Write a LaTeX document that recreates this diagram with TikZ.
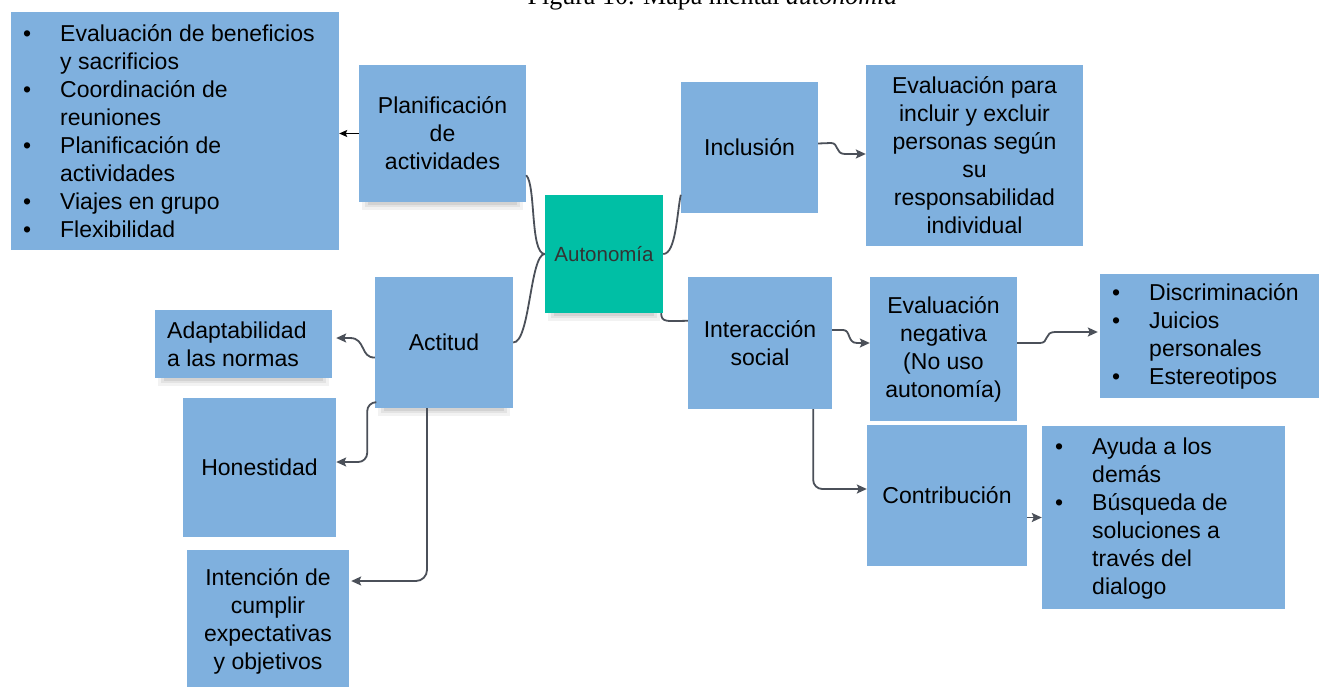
\documentclass[tikz,border=0pt]{standalone}
\usepackage{fontspec}
\setmainfont{Liberation Sans}
\newfontfamily\capfont{Liberation Serif}
\usetikzlibrary{arrows.meta}
\definecolor{boxblue}{RGB}{127,176,222}
\definecolor{autoteal}{RGB}{0,191,165}
\definecolor{conngray}{RGB}{75,80,89}
\definecolor{autotext}{RGB}{51,51,51}
\newcommand\bl{\llap{\textbullet\hspace{29pt}}}
\newcommand\boxshadow[1]{%
  \fill[black, opacity=0.05] ([xshift=3pt]#1.south west) rectangle ([xshift=-3pt,yshift=-8pt]#1.south east);
  \fill[black, opacity=0.06] ([xshift=6pt]#1.south west) rectangle ([xshift=-6pt,yshift=-5pt]#1.south east);
  \fill[black, opacity=0.07] ([xshift=9pt]#1.south west) rectangle ([xshift=-9pt,yshift=-2.5pt]#1.south east);}
\begin{document}
\begin{tikzpicture}[x=1pt,y=-1pt,
  box/.style={fill=boxblue, draw=none, inner sep=0pt, align=center,
    font=\fontsize{23}{28}\selectfont, text=black},
  listtext/.style={inner sep=0pt, align=left, anchor=west,
    font=\fontsize{23}{28}\selectfont, text=black},
  link/.style={draw=conngray, line width=1.8pt},
  conn/.style={link, -{Stealth[length=10pt,width=9pt,inset=2pt]}},
  thinarrow/.style={draw=black, line width=1pt,
    -{Stealth[length=8pt,width=7pt,inset=1.5pt]}}]
\useasboundingbox (0,0) rectangle (1319,687);
\fill[white] (0,0) rectangle (1319,687);

% caption (cut at the top edge, as in the reference)
\node[inner sep=0pt, anchor=base, font=\capfont\fontsize{26}{30}\selectfont] (caption) at (712.5,5)
  {Figura 10. Mapa mental \textit{autonomía}};

% boxes
\node[box, minimum width=328pt, minimum height=238pt] (list1) at (175,131) {};
\node[listtext] (list1t) at (60,131)
  {\bl Evaluación de beneficios\\y sacrificios\\\bl Coordinación de\\reuniones\\\bl Planificación de\\actividades\\\bl Viajes en grupo\\\bl Flexibilidad};

\node[box, minimum width=167pt, minimum height=137pt] (plan) at (442.5,133.5)
  {Planificación\\de\\actividades};
\boxshadow{plan}

\node[box, fill=autoteal, text=autotext, font=\fontsize{20.5}{24}\selectfont,
  minimum width=118pt, minimum height=118pt] (auto) at (604,254) {Autonomía};
\boxshadow{auto}

\node[box, minimum width=137pt, minimum height=131pt] (incl) at (749.5,147.5) {Inclusión};

\node[box, minimum width=217pt, minimum height=181pt] (evalpara) at (974.5,155.5)
  {Evaluación para\\incluir y excluir\\personas según\\su\\responsabilidad\\individual};

\node[box, minimum width=144pt, minimum height=132pt] (inter) at (760,343) {Interacción\\social};

\node[box, minimum width=147pt, minimum height=144pt] (evalneg) at (943.5,349)
  {Evaluación\\negativa\\(No uso\\autonomía)};

\node[box, minimum width=222pt, minimum height=124pt] (discr) at (1211,336) {};
\node[listtext] (discrt) at (1149,336)
  {\bl Discriminación\\\bl Juicios\\personales\\\bl Estereotipos};

\node[box, minimum width=160pt, minimum height=141pt] (contrib) at (947,495.5) {Contribución};

\node[box, minimum width=243pt, minimum height=183pt] (ayuda) at (1163.5,517.5) {};
\node[listtext] (ayudat) at (1092,519)
  {\bl Ayuda a los\\demás\\\bl Búsqueda de\\soluciones a\\través del\\dialogo};

\node[box, minimum width=138pt, minimum height=131pt] (actitud) at (444,342.5) {Actitud};
\boxshadow{actitud}

\node[box, minimum width=177pt, minimum height=68pt] (adapt) at (243.5,344) {};
\node[listtext] (adaptt) at (167,344) {Adaptabilidad\\a las normas};
\boxshadow{adapt}

\node[box, minimum width=153pt, minimum height=139pt] (hon) at (259.5,467.5) {Honestidad};

\node[box, minimum width=162pt, minimum height=142pt] (intencion) at (268,621)
  {Intención de\\cumplir\\expectativas\\y objetivos};

% connectors
\draw[thinarrow] (plan.west) -- (plan.west -| list1.east);

\draw[link] ([yshift=27pt]plan.south east)
  .. controls (536,185) and (530,254) .. (auto.west);
\draw[link] (actitud.east)
  .. controls (530,343) and (530,254) .. (auto.west);
\draw[link] (auto.east)
  .. controls (676,254) and (677,212) .. ([yshift=-113pt]incl.north west);
\draw[link] ([xshift=-2pt]auto.south east)
  .. controls (661,323) and (668,321) .. ([yshift=-44pt]inter.north west);

\draw[conn] ([yshift=4pt]incl.east) -- (831,143)
  .. controls (839,143) and (835,154) .. (845,154) -- ([yshift=1.5pt]evalpara.west);
\draw[conn] ([yshift=13pt]inter.east) -- (843,330)
  .. controls (851,330) and (847,343) .. (857,343) -- ([yshift=6pt]evalneg.west);
\draw[conn] ([yshift=6pt]evalneg.east) -- (1040,343)
  .. controls (1049,343) and (1044,332) .. (1055,332) -- ([yshift=4pt,xshift=-2pt]discr.west);

\draw[conn, rounded corners=9pt] ([xshift=-19pt]inter.south east) |- ([yshift=6.5pt]contrib.west);
\draw[conn] (contrib.east |- ayuda.west) -- (ayuda.west);

\draw[conn, shorten >=4pt] ([yshift=-15pt]actitud.west)
  .. controls (360,358) and (366,338) .. (350,338) -- ([yshift=6pt]adapt.east);
\draw[conn, rounded corners=9pt] ([yshift=6pt]actitud.south west)
  -| ([xshift=31pt,yshift=5.5pt]hon.east) -- ([yshift=5.5pt]hon.east);
\draw[conn, rounded corners=11pt, shorten >=2pt] ([xshift=-17pt]actitud.south)
  |- ([yshift=40pt]intencion.east);
\end{tikzpicture}
\end{document}
